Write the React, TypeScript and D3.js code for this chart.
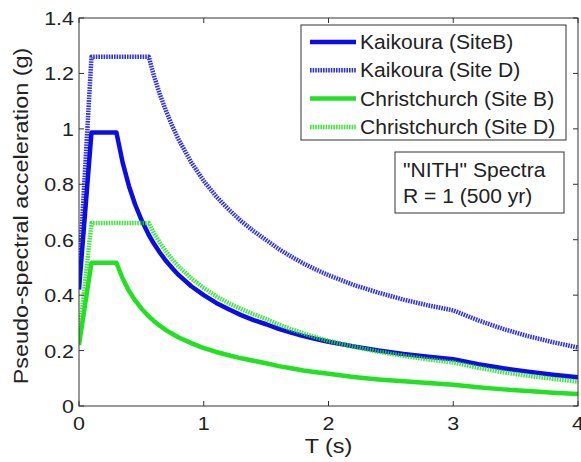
import React from "react";
import * as d3 from "d3";

const periods = [0, 0.1, 0.2, 0.3, 0.35, 0.4, 0.45, 0.5, 0.56, 0.6, 0.65, 0.7, 0.75, 0.8, 0.9, 1.0, 1.1, 1.2, 1.3, 1.4, 1.5, 1.6, 1.7, 1.8, 1.9, 2.0, 2.2, 2.4, 2.6, 2.8, 3.0, 3.2, 3.4, 3.6, 3.8, 4.0];

const kaikouraB = [0.42, 0.987, 0.987, 0.987, 0.878, 0.794, 0.727, 0.672, 0.617, 0.586, 0.552, 0.522, 0.496, 0.472, 0.432, 0.4, 0.372, 0.349, 0.328, 0.31, 0.295, 0.278, 0.265, 0.252, 0.242, 0.232, 0.215, 0.2, 0.188, 0.178, 0.169, 0.151, 0.136, 0.124, 0.113, 0.104];
const kaikouraD = [0.47, 1.26, 1.26, 1.26, 1.26, 1.26, 1.26, 1.26, 1.26, 1.192, 1.122, 1.062, 1.008, 0.96, 0.879, 0.812, 0.756, 0.709, 0.667, 0.631, 0.599, 0.567, 0.539, 0.514, 0.492, 0.472, 0.437, 0.409, 0.384, 0.363, 0.345, 0.309, 0.278, 0.252, 0.23, 0.211];
const christchurchB = [0.22, 0.517, 0.517, 0.517, 0.46, 0.416, 0.381, 0.352, 0.323, 0.307, 0.289, 0.273, 0.26, 0.247, 0.227, 0.209, 0.195, 0.183, 0.172, 0.163, 0.154, 0.144, 0.136, 0.128, 0.122, 0.116, 0.105, 0.096, 0.089, 0.083, 0.077, 0.068, 0.06, 0.054, 0.048, 0.043];
const christchurchD = [0.246, 0.66, 0.66, 0.66, 0.66, 0.66, 0.66, 0.66, 0.66, 0.624, 0.588, 0.556, 0.528, 0.503, 0.461, 0.426, 0.396, 0.371, 0.35, 0.331, 0.314, 0.294, 0.277, 0.262, 0.248, 0.235, 0.214, 0.196, 0.181, 0.168, 0.157, 0.138, 0.122, 0.109, 0.098, 0.088];

const xTicks = [0, 1, 2, 3, 4];
const yTicks = [0, 0.2, 0.4, 0.6, 0.8, 1, 1.2, 1.4];
const seriesNames = ["Kaikoura (SiteB)", "Kaikoura (Site D)", "Christchurch (Site B)", "Christchurch (Site D)"];
const annotation = ['"NITH" Spectra', "R = 1 (500 yr)"];

const BLUE = "#0c0ce8";
const GREEN = "#22e022";

export default function App() {
  const W = 581, H = 462;
  const left = 79, right = 578, top = 18, bottom = 406;
  const x = d3.scaleLinear().domain([0, 4]).range([left, right]);
  const y = d3.scaleLinear().domain([0, 1.4]).range([bottom, top]);
  const line = d3.line<number>().x((_, i) => x(periods[i])).y((v) => y(v)).curve(d3.curveLinear);

  const series = [
    { name: seriesNames[0], vals: kaikouraB, color: BLUE, dotted: false },
    { name: seriesNames[1], vals: kaikouraD, color: BLUE, dotted: true },
    { name: seriesNames[2], vals: christchurchB, color: GREEN, dotted: false },
    { name: seriesNames[3], vals: christchurchD, color: GREEN, dotted: true },
  ];
  const drawOrder = [1, 0, 3, 2];
  const font = "'Liberation Sans', Arial, sans-serif";
  const axisColor = "#333";
  const fmt = (v: number) => (v === 0 ? "0" : String(+v.toFixed(1)));
  const sx = 1.13;

  return (
    <svg width={W} height={H} style={{ position: "absolute", left: 0, top: 0, background: "#fff" }}>
      <defs>
        <clipPath id="plotclip">
          <rect x={left} y={top} width={right - left} height={bottom - top} />
        </clipPath>
      </defs>
      <rect x={0} y={0} width={W} height={H} fill="#fff" />
      <g clipPath="url(#plotclip)">
        {drawOrder.map((k) => {
          const s = series[k];
          return (
            <path key={k} d={line(s.vals) || ""} fill="none" stroke={s.color} strokeWidth={4.5}
              strokeDasharray={s.dotted ? "1.6,1" : undefined} strokeLinejoin="round" opacity={s.dotted ? 0.85 : 1} />
          );
        })}
      </g>
      <rect x={left} y={top} width={right - left} height={bottom - top} fill="none" stroke={axisColor} strokeWidth={1} />
      {xTicks.map((t) => (
        <g key={"xt" + t}>
          <line x1={x(t)} x2={x(t)} y1={bottom} y2={bottom - 5} stroke={axisColor} />
          <line x1={x(t)} x2={x(t)} y1={top} y2={top + 5} stroke={axisColor} />
          <text transform={`translate(${x(t)},${430}) scale(${sx},1)`} textAnchor="middle" fontFamily={font} fontSize={19} fill="#222">{fmt(t)}</text>
        </g>
      ))}
      {yTicks.map((t) => (
        <g key={"yt" + t}>
          <line x1={left} x2={left + 5} y1={y(t)} y2={y(t)} stroke={axisColor} />
          <line x1={right} x2={right - 5} y1={y(t)} y2={y(t)} stroke={axisColor} />
          <text transform={`translate(${74},${y(t) + 7}) scale(${sx},1)`} textAnchor="end" fontFamily={font} fontSize={19} fill="#222">{fmt(t)}</text>
        </g>
      ))}
      <text transform={`translate(${(left + right) / 2},${453}) scale(1.17,1)`} textAnchor="middle" fontFamily={font} fontSize={20} fill="#222">T (s)</text>
      <text transform={`translate(${28},${216}) rotate(-90) scale(1.17,1)`} textAnchor="middle" fontFamily={font} fontSize={20} fill="#222">Pseudo-spectral acceleration (g)</text>

      <rect x={301} y={25} width={265} height={115} fill="#fff" stroke={axisColor} strokeWidth={1} />
      {series.map((s, i) => {
        const yy = 42 + i * 28.3;
        return (
          <g key={"lg" + i}>
            <line x1={310} x2={356} y1={yy} y2={yy} stroke={s.color} strokeWidth={4.5}
              strokeDasharray={s.dotted ? "1.6,1" : undefined} opacity={s.dotted ? 0.85 : 1} />
            <text transform={`translate(${360},${yy + 7}) scale(1.08,1)`} fontFamily={font} fontSize={19.5} fill="#222">{s.name}</text>
          </g>
        );
      })}

      <rect x={395} y={152} width={169} height={61} fill="#fff" stroke={axisColor} strokeWidth={1} />
      {annotation.map((t, i) => (
        <text key={"an" + i} transform={`translate(${403},${177 + i * 26}) scale(1.08,1)`} fontFamily={font} fontSize={19.5} fill="#222">{t}</text>
      ))}
    </svg>
  );
}
